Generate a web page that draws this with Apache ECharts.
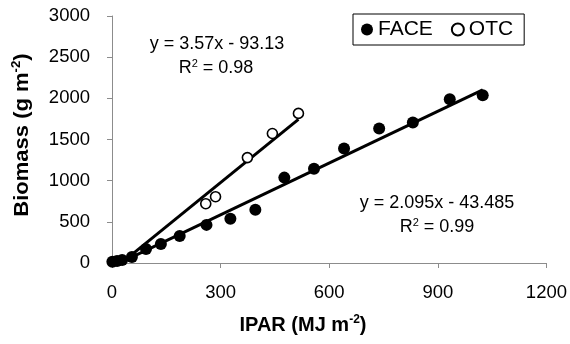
<!DOCTYPE html>
<html>
<head>
<meta charset="utf-8">
<script src="https://cdn.jsdelivr.net/npm/echarts@6/dist/echarts.min.js"></script>
<style>
html,body{margin:0;padding:0;background:#fff;}
#chart{width:570px;height:344px;}
</style>
</head>
<body>
<div id="chart"></div>
<script>
// ---- data ----
var faceX = [1, 14, 28, 55, 94, 135, 187, 261, 327, 396, 476, 558, 641, 738, 831, 933, 1024];
var faceY = [16, 24, 37, 73, 171, 232, 329, 463, 537, 646, 1037, 1146, 1390, 1634, 1707, 1988, 2037];
var otcX = [259, 286, 374, 443, 515];
var otcY = [720, 805, 1280, 1573, 1817];
// trendline coefficients (slope, intercept) and x ranges
var faceFit = [2.095, -43.485];
var otcFit = [3.57, -93.13];
var faceFitRange = [1, 1024];
var otcFitRange = [30, 515];
var xTicks = [0, 300, 600, 900, 1200];
var yTicks = [0, 500, 1000, 1500, 2000, 2500, 3000];

function pairs(xs, ys) { return xs.map(function (x, i) { return [x, ys[i]]; }); }
function fitLine(fit, range) { return range.map(function (x) { return [x, fit[0] * x + fit[1]]; }); }

var FONT = '"Liberation Sans", Arial, sans-serif';
var axisCommon = {
  axisLine: { show: true, onZero: false, lineStyle: { color: '#8c8c8c', width: 1 } },
  axisTick: { show: true, inside: false, length: 5, lineStyle: { color: '#8c8c8c' } },
  splitLine: { show: false },
  axisLabel: { color: '#000', fontSize: 18.5, fontFamily: FONT, formatter: function (v) { return String(v); } }
};

var chart = echarts.init(document.getElementById('chart'), null, { renderer: 'canvas' });
chart.setOption({
  animation: false,
  backgroundColor: '#fff',
  grid: { left: 112, right: 22, top: 16, bottom: 81, containLabel: false },
  xAxis: Object.assign({}, axisCommon, {
    type: 'value', min: xTicks[0], max: xTicks[xTicks.length - 1], interval: 300,
    axisLabel: Object.assign({}, axisCommon.axisLabel, { margin: 20 })
  }),
  yAxis: Object.assign({}, axisCommon, {
    type: 'value', min: yTicks[0], max: yTicks[yTicks.length - 1], interval: 500,
    axisLabel: Object.assign({}, axisCommon.axisLabel, { margin: 22 })
  }),
  legend: {
    data: ['FACE', 'OTC'],
    left: 353, top: 14,
    padding: [5, 11, 5, 8],
    borderColor: '#000', borderWidth: 1,
    itemWidth: 12, itemHeight: 12, itemGap: 18, itemTextGap: 8,
    textStyle: { fontSize: 21, fontFamily: FONT, color: '#000' }
  },
  series: [
    { name: 'FACE trend', type: 'line', data: fitLine(faceFit, faceFitRange), symbol: 'none',
      lineStyle: { color: '#000', width: 3 }, z: 2, clip: true },
    { name: 'OTC trend', type: 'line', data: fitLine(otcFit, otcFitRange), symbol: 'none',
      lineStyle: { color: '#000', width: 3 }, z: 2, clip: true },
    { name: 'FACE', type: 'scatter', data: pairs(faceX, faceY), symbol: 'circle', symbolSize: 12,
      itemStyle: { color: '#000', opacity: 1 }, z: 3 },
    { name: 'OTC', type: 'scatter', data: pairs(otcX, otcY), symbol: 'circle', symbolSize: 10,
      itemStyle: { color: '#fff', borderColor: '#000', borderWidth: 1.6, opacity: 1 }, z: 3 }
  ],
  graphic: [
    { type: 'text', x: 217, y: 44, style: { text: 'y = 3.57x - 93.13', font: '18px ' + FONT, fill: '#000', textAlign: 'center', textVerticalAlign: 'middle' } },
    { type: 'text', x: 216, y: 68, style: { text: 'R{s|2} = 0.98', textAlign: 'center', textVerticalAlign: 'middle', fill: '#000',
        fontSize: 18, fontFamily: FONT, rich: { s: { fontSize: 11, fontFamily: FONT, verticalAlign: 'top', lineHeight: 20, padding: [0, 0, 8, 0] } } } },
    { type: 'text', x: 437, y: 203, style: { text: 'y = 2.095x - 43.485', font: '18px ' + FONT, fill: '#000', textAlign: 'center', textVerticalAlign: 'middle' } },
    { type: 'text', x: 437, y: 227, style: { text: 'R{s|2} = 0.99', textAlign: 'center', textVerticalAlign: 'middle', fill: '#000',
        fontSize: 18, fontFamily: FONT, rich: { s: { fontSize: 11, fontFamily: FONT, verticalAlign: 'top', lineHeight: 20, padding: [0, 0, 8, 0] } } } },
    { type: 'text', x: 303, y: 325, style: { text: 'IPAR (MJ m{s|-2})', textAlign: 'center', textVerticalAlign: 'middle', fill: '#000',
        fontSize: 20, fontWeight: 'bold', fontFamily: FONT, rich: { s: { fontSize: 12, fontWeight: 'bold', fontFamily: FONT, padding: [0, 0, 10, 0] } } } },
    { type: 'text', x: 22, y: 135, rotation: Math.PI / 2, scaleX: 1.1, style: { text: 'Biomass (g m{s|-2})', textAlign: 'center', textVerticalAlign: 'middle', fill: '#000',
        fontSize: 20, fontWeight: 'bold', fontFamily: FONT, rich: { s: { fontSize: 12, fontWeight: 'bold', fontFamily: FONT, padding: [0, 0, 10, 0] } } } }
  ]
});
</script>
</body>
</html>
